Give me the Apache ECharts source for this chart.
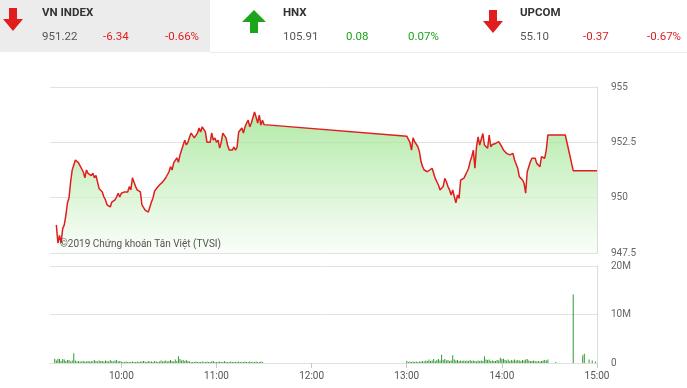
<!DOCTYPE html>
<html><head><meta charset="utf-8">
<script src="https://cdn.jsdelivr.net/npm/echarts@6/dist/echarts.min.js"></script>
<style>html,body{margin:0;padding:0;background:#fff}#c{width:687px;height:388px}</style>
</head><body><div id="c"></div>
<script>
const indexNames = ['VN INDEX', 'HNX', 'UPCOM'];
const indexValues = ['951.22', '105.91', '55.10'];
const indexChanges = ['-6.34', '0.08', '-0.37'];
const indexPercents = ['-0.66%', '0.07%', '-0.67%'];
const indexUp = [false, true, false];
const timeTicks = ['10:00', '11:00', '12:00', '13:00', '14:00', '15:00'];
const priceTicks = [947.5, 950, 952.5, 955];
const volumeTicks = [0, 10000000, 20000000];
const watermark = '©2019 Chứng khoán Tân Việt (TVSI)';

const priceAM = [
 ['9:19',948.77],['9:20',947.95],['9:21',948.3],['9:22',947.95],['9:23',948.6],['9:24',948.77],['9:25',949.2],['9:26',949.76],
 ['9:27',950.0],['9:28',950.7],['9:29',951.25],['9:31',951.7],['9:33',951.57],['9:36',951.16],['9:37',950.9],['9:38',951.25],
 ['9:39',951.1],['9:40',951.16],['9:41',951.0],['9:42',951.1],['9:43',950.9],['9:44',951.0],['9:45',950.7],['9:46',950.4],
 ['9:48',950.26],['9:49',950.03],['9:50',949.9],['9:51',949.67],['9:52',949.76],['9:53',949.58],['9:54',949.8],['9:56',949.9],
 ['9:57',950.03],['9:58',950.2],['9:59',950.03],['10:00',950.2],['10:01',950.26],['10:02',950.26],['10:03',950.35],['10:04',950.26],
 ['10:05',950.5],['10:06',950.35],['10:07',950.9],['10:08',950.7],['10:09',950.5],['10:10',950.35],['10:11',950.4],['10:12',950.26],
 ['10:13',949.67],['10:14',949.58],['10:15',949.44],['10:16',949.35],['10:17',949.35],['10:18',949.3],['10:19',949.8],['10:20',950.0],
 ['10:21',950.3],['10:22',950.4],['10:24',950.57],['10:26',950.7],['10:28',950.9],['10:30',951.16],['10:31',951.4],['10:32',951.25],
 ['10:33',951.57],['10:34',951.6],['10:35',951.8],['10:36',951.6],['10:37',951.93],['10:38',951.93],['10:40',952.6],['10:41',952.38],
 ['10:42',952.5],['10:43',952.74],['10:44',952.92],['10:45',952.83],['10:46',952.7],['10:47',952.74],['10:48',952.92],['10:49',953.15],
 ['10:50',952.97],['10:51',953.2],['10:52',953.28],['10:53',952.97],['10:54',952.5],['10:56',952.5],['10:57',952.92],['10:58',952.6],
 ['10:59',952.7],['11:00',952.5],['11:01',952.6],['11:02',952.24],['11:03',952.5],['11:04',952.92],['11:05',952.83],['11:06',952.7],
 ['11:07',952.38],['11:08',952.15],['11:09',952.24],['11:10',952.15],['11:11',952.29],['11:12',952.15],['11:13',952.29],['11:14',952.97],
 ['11:16',953.15],['11:17',952.92],['11:18',953.2],['11:19',953.37],['11:20',953.5],['11:21',953.2],['11:22',953.37],['11:23',953.42],
 ['11:24',953.87],['11:25',953.64],['11:26',953.37],['11:27',953.73],['11:28',953.28],['11:29',953.5],['11:30',953.3]
];
const pricePM = [
 ['13:00',952.78],['13:01',952.75],['13:02',952.5],['13:03',952.15],['13:04',952.7],['13:05',952.53],['13:06',952.45],['13:07',952.3],
 ['13:08',952.08],['13:09',951.63],['13:10',951.4],['13:11',951.25],['13:12',951.33],['13:13',951.17],['13:14',951.1],['13:16',951.33],
 ['13:17',951.25],['13:18',950.87],['13:19',950.72],['13:20',950.57],['13:21',950.35],['13:22',950.35],['13:23',950.5],['13:24',950.87],
 ['13:25',950.72],['13:26',950.5],['13:27',950.35],['13:28',950.12],['13:29',950.35],['13:30',950.04],['13:31',949.77],['13:32',950.12],
 ['13:33',949.97],['13:34',950.8],['13:36',950.87],['13:37',951.02],['13:38',951.17],['13:39',951.33],['13:40',951.63],['13:41',951.85],
 ['13:42',952.15],['13:43',951.33],['13:44',952.3],['13:45',952.75],['13:46',952.38],['13:47',952.45],['13:48',952.9],['13:49',952.38],
 ['13:50',952.3],['13:51',952.23],['13:52',952.83],['13:53',952.3],['13:54',952.4],['13:56',952.45],['13:57',952.4],['13:58',952.53],
 ['13:59',952.45],['14:00',952.3],['14:01',952.15],['14:02',952.23],['14:03',952.0],['14:04',952.08],['14:05',951.93],['14:06',951.85],
 ['14:07',952.0],['14:08',951.7],['14:09',951.78],['14:10',951.33],['14:11',950.95],['14:12',950.87],['14:13',950.8],['14:14',950.65],
 ['14:15',950.2],['14:16',951.17],['14:17',951.4],['14:18',951.63],['14:19',951.78],['14:20',951.7],['14:21',951.78],['14:22',951.55],
 ['14:23',951.48],['14:24',951.4],['14:25',951.85],['14:26',951.93],['14:27',951.78],['14:28',952.15],['14:29',952.83],['14:40',952.83],
 ['14:45',951.22],['15:00',951.22]
];
// volume in millions of shares
const volAM = [
 ['9:18',0.9],['9:19',0.5],['9:20',0.9],['9:21',0.8],['9:22',0.4],['9:23',0.8],['9:24',0.7],['9:25',0.4],['9:26',0.6],['9:27',0.6],
 ['9:28',0.3],['9:29',0.5],['9:30',2.0],['9:31',0.5],['9:32',0.3],['9:33',0.4],['9:34',0.3],['9:35',0.3],['9:36',0.4],['9:37',0.3],
 ['9:38',0.3],['9:39',0.4],['9:40',0.3],['9:41',0.4],['9:42',0.3],['9:43',0.6],['9:44',0.4],['9:45',0.3],['9:46',0.5],['9:47',0.4],
 ['9:48',0.4],['9:49',0.3],['9:50',0.5],['9:51',0.4],['9:52',0.3],['9:53',0.6],['9:54',0.4],['9:55',0.3],['9:56',0.5],['9:57',0.6],
 ['9:58',0.3],['9:59',0.4],['10:00',0.3],['10:01',0.2],['10:02',0.2],['10:03',0.3],['10:04',0.2],['10:05',0.2],['10:06',0.2],['10:07',0.3],
 ['10:08',0.2],['10:09',0.2],['10:10',0.3],['10:11',0.2],['10:12',0.3],['10:13',0.3],['10:14',0.4],['10:15',0.3],['10:16',0.2],['10:17',0.4],
 ['10:18',0.3],['10:19',0.3],['10:20',0.2],['10:21',0.4],['10:22',0.3],['10:23',0.2],['10:24',0.3],['10:25',0.5],['10:26',0.3],['10:27',0.4],
 ['10:28',0.5],['10:29',0.3],['10:30',0.4],['10:31',0.6],['10:32',0.4],['10:33',0.3],['10:34',0.7],['10:35',0.4],['10:36',1.4],['10:37',0.8],
 ['10:38',0.5],['10:39',0.6],['10:40',0.4],['10:41',0.6],['10:42',0.4],['10:43',0.3],['10:44',0.2],['10:45',0.2],['10:46',0.2],['10:47',0.3],
 ['10:48',0.2],['10:49',0.2],['10:50',0.2],['10:51',0.3],['10:52',0.2],['10:53',0.2],['10:54',0.3],['10:55',0.2],['10:56',0.2],['10:57',0.3],
 ['10:58',0.4],['10:59',0.2],['11:00',0.2],['11:01',0.2],['11:02',0.3],['11:03',0.2],['11:04',0.2],['11:05',0.4],['11:06',0.2],['11:07',0.2],
 ['11:08',0.2],['11:09',0.3],['11:10',0.2],['11:11',0.2],['11:12',0.2],['11:13',0.2],['11:14',0.3],['11:15',0.2],['11:16',0.2],['11:17',0.2],
 ['11:18',0.3],['11:19',0.2],['11:20',0.2],['11:21',0.3],['11:22',0.2],['11:23',0.2],['11:24',0.2],['11:25',0.3],['11:26',0.2],['11:27',0.2],
 ['11:28',0.3],['11:29',0.2]
];
const volPM = [
 ['13:00',0.4],['13:01',0.2],['13:02',0.3],['13:03',0.2],['13:04',0.3],['13:05',0.2],['13:06',0.3],['13:07',0.2],['13:08',0.3],['13:09',0.3],
 ['13:10',0.4],['13:11',0.3],['13:12',0.5],['13:13',0.4],['13:14',0.7],['13:15',0.4],['13:16',0.5],['13:17',0.8],['13:18',0.4],['13:19',0.6],
 ['13:20',0.8],['13:21',0.5],['13:22',1.7],['13:23',0.6],['13:24',0.8],['13:25',0.5],['13:26',0.6],['13:27',0.4],['13:28',0.5],['13:29',1.6],
 ['13:30',0.7],['13:31',0.5],['13:32',0.6],['13:33',0.4],['13:34',0.5],['13:35',0.4],['13:36',0.5],['13:37',0.4],['13:38',0.5],['13:39',0.4],
 ['13:40',0.6],['13:41',0.4],['13:42',0.5],['13:43',0.4],['13:44',0.3],['13:45',0.5],['13:46',0.4],['13:47',0.5],['13:48',0.4],['13:49',1.4],
 ['13:50',0.7],['13:51',0.6],['13:52',0.7],['13:53',0.4],['13:54',0.5],['13:55',0.4],['13:56',0.4],['13:57',0.6],['13:58',0.5],['13:59',1.1],
 ['14:00',0.8],['14:01',0.9],['14:02',0.6],['14:03',0.5],['14:04',0.7],['14:05',0.4],['14:06',0.6],['14:07',0.5],['14:08',0.7],['14:09',0.5],
 ['14:10',0.6],['14:11',0.5],['14:12',0.4],['14:13',0.6],['14:14',0.5],['14:15',0.7],['14:16',0.8],['14:17',0.5],['14:18',0.4],['14:19',0.4],
 ['14:20',0.5],['14:21',0.4],['14:22',0.3],['14:23',0.4],['14:24',0.3],['14:25',0.4],['14:26',0.5],['14:27',0.6],['14:28',0.5],['14:29',0.7],
 ['14:34',0.2],['14:45',14.1],['14:51',1.6],['14:52',1.9],['14:55',0.7],['14:57',0.5],['14:59',0.3]
];

function toMin(s) { const p = s.split(':'); return (+p[0] - 9) * 60 + (+p[1]); }
const tickMins = timeTicks.map(toMin);
const priceData = priceAM.concat(pricePM).map(d => [toMin(d[0]), d[1]]);
const volData = volAM.concat(volPM).map(d => [toMin(d[0]), d[1] * 1e6]);

const RED = '#e11d1d', GREEN = '#1aa51a';
const FONT = 'Roboto, "Noto Sans", sans-serif';
const colX = [[42, 103, 165], [283, 346, 408], [520, 583, 647]];
const arrowShapes = [
  [[9,8],[17,8],[17,19],[23,19],[13,31],[3,19],[9,19]],
  [[254,10],[266,22],[258,22],[258,33],[250,33],[250,22],[242,22]],
  [[489,10],[497,10],[497,21],[503,21],[493,33],[483,21],[489,21]]
];
const graphic = [
  { type: 'rect', shape: { x: 0, y: 0, width: 210, height: 52 }, style: { fill: '#ececec' }, z: -1 },
  { type: 'line', shape: { x1: 210, y1: 52.5, x2: 687, y2: 52.5 }, style: { stroke: '#ececec', lineWidth: 1 }, z: -1 }
];
indexNames.forEach((n, i) => {
  const col = indexUp[i] ? GREEN : RED;
  graphic.push({ type: 'polygon', shape: { points: arrowShapes[i] }, style: { fill: col } });
  graphic.push({ type: 'text', x: colX[i][0], y: 13, style: { text: n, fill: '#333', font: 'bold 11.5px ' + FONT, verticalAlign: 'middle' } });
  graphic.push({ type: 'text', x: colX[i][0], y: 37, style: { text: indexValues[i], fill: '#555', font: '11.5px ' + FONT, verticalAlign: 'middle' } });
  graphic.push({ type: 'text', x: colX[i][1], y: 37, style: { text: indexChanges[i], fill: col, font: '11.5px ' + FONT, verticalAlign: 'middle' } });
  graphic.push({ type: 'text', x: colX[i][2], y: 37, style: { text: indexPercents[i], fill: col, font: '11.5px ' + FONT, verticalAlign: 'middle' } });
});
graphic.push({ type: 'text', x: 60, y: 244, z: 100, style: { text: watermark, fill: '#555', font: '10px ' + FONT, verticalAlign: 'middle' } });

const chart = echarts.init(document.getElementById('c'), null, { renderer: 'canvas' });
chart.setOption({
  animation: false,
  backgroundColor: '#fff',
  graphic: graphic,
  grid: [
    { left: 50, right: 90, top: 87, height: 166 },
    { left: 50, right: 90, top: 266, height: 97 }
  ],
  xAxis: [
    { gridIndex: 0, type: 'value', min: 15, max: 360, axisLine: { show: false }, axisTick: { show: false }, axisLabel: { show: false }, splitLine: { show: false } },
    { gridIndex: 1, type: 'value', min: 15, max: 360,
      axisLine: { show: true, lineStyle: { color: '#e0e0e0' } },
      axisTick: { show: true, customValues: tickMins, length: 5, lineStyle: { color: '#c8c8c8' } },
      axisLabel: { customValues: tickMins, color: '#555', fontSize: 10, fontFamily: FONT, margin: 8,
        formatter: v => { const h = Math.floor(v / 60) + 9, m = v % 60; return h + ':' + (m < 10 ? '0' : '') + m; } },
      splitLine: { show: false } }
  ],
  yAxis: [
    { gridIndex: 0, type: 'value', position: 'right', min: priceTicks[0], max: priceTicks[priceTicks.length - 1], interval: 2.5,
      axisLine: { show: true, lineStyle: { color: '#dcdcdc' } }, axisTick: { show: false },
      axisLabel: { color: '#666', fontSize: 10, fontFamily: FONT, margin: 14 },
      splitLine: { lineStyle: { color: '#e2e2e2' } } },
    { gridIndex: 1, type: 'value', position: 'right', min: volumeTicks[0], max: volumeTicks[volumeTicks.length - 1], interval: 10000000,
      axisLine: { show: true, lineStyle: { color: '#dcdcdc' } }, axisTick: { show: false },
      axisLabel: { color: '#666', fontSize: 10, fontFamily: FONT, margin: 14, formatter: v => v === 0 ? '0' : (v / 1e6) + 'M' },
      splitLine: { lineStyle: { color: '#e2e2e2' } } }
  ],
  series: [
    { type: 'line', xAxisIndex: 0, yAxisIndex: 0, data: priceData, showSymbol: false, symbol: 'none',
      lineStyle: { color: RED, width: 1.5 },
      areaStyle: { origin: 'start', color: new echarts.graphic.LinearGradient(0, 0, 0, 1, [
        { offset: 0, color: '#93e183' }, { offset: 1, color: '#f8fdf7' }]) } },
    { type: 'bar', xAxisIndex: 1, yAxisIndex: 1, data: volData, barWidth: 1, itemStyle: { color: '#2f9a2f' } }
  ]
});
</script></body></html>
